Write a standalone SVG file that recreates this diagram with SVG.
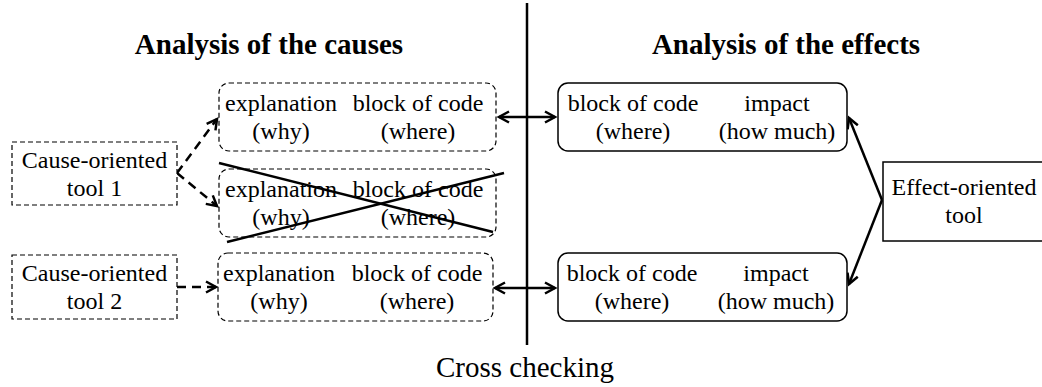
<svg xmlns="http://www.w3.org/2000/svg" width="1042" height="387" viewBox="0 0 1042 387">
<style>
text{font-family:"Liberation Serif","Times New Roman",serif;fill:#000;text-anchor:middle}
.t{font-size:24px}
.h{font-size:29px;font-weight:bold}
.x{font-size:29px}
.db{fill:#fff;stroke:#000;stroke-width:1.2;stroke-dasharray:5 3}
.sb{fill:#fff;stroke:#000;stroke-width:1.5}
.dl{fill:none;stroke:#000;stroke-width:2.5;stroke-dasharray:9 6}
.sl{fill:none;stroke:#000;stroke-width:2.5}
</style>
<defs>
<marker id="ah" markerUnits="userSpaceOnUse" markerWidth="14" markerHeight="14" refX="11" refY="7" orient="auto-start-reverse" viewBox="0 0 14 14">
<path d="M1,1.5 L11,7 L1,12.5" fill="none" stroke="#000" stroke-width="2.5"/>
</marker>
</defs>
<g id="titles">
<text class="h" x="269" y="54">Analysis of the causes</text>
<text class="h" x="786" y="54">Analysis of the effects</text>
<text class="x" x="525" y="377">Cross checking</text>
</g>
<g id="connectors">
<line class="sl" x1="527" y1="3" x2="527" y2="345"/>
<path class="dl" d="M177,173 L217,119" marker-end="url(#ah)"/>
<path class="dl" d="M177,173 L217,206" marker-end="url(#ah)"/>
<path class="dl" d="M177,287 L216,287" marker-end="url(#ah)"/>
<line class="sl" x1="499" y1="117" x2="555" y2="117" marker-start="url(#ah)" marker-end="url(#ah)"/>
<line class="sl" x1="495" y1="288" x2="555" y2="288" marker-start="url(#ah)" marker-end="url(#ah)"/>
<path class="sl" d="M882,200 L849,118" marker-end="url(#ah)"/>
<path class="sl" d="M882,200 L849,284" marker-end="url(#ah)"/>
</g>
<g id="cause-tool-1">
<rect class="db" x="12" y="142" width="165" height="63"/>
<text class="t" x="94.5" y="167.5">Cause-oriented</text>
<text class="t" x="94.5" y="195.5">tool 1</text>
</g>
<g id="cause-tool-2">
<rect class="db" x="12" y="255" width="165" height="64"/>
<text class="t" x="94.5" y="281">Cause-oriented</text>
<text class="t" x="94.5" y="309">tool 2</text>
</g>
<g id="cause-a">
<rect class="db" x="219" y="83" width="277" height="68" rx="10"/>
<text class="t" x="281" y="111">explanation</text>
<text class="t" x="418" y="111">block of code</text>
<text class="t" x="281" y="139">(why)</text>
<text class="t" x="418" y="139">(where)</text>
</g>
<g id="cause-b">
<rect class="db" x="219" y="169" width="277" height="68" rx="10"/>
<text class="t" x="281" y="197">explanation</text>
<text class="t" x="418" y="197">block of code</text>
<text class="t" x="281" y="225">(why)</text>
<text class="t" x="418" y="225">(where)</text>
</g>
<g id="cross-out">
<line class="sl" x1="219" y1="163" x2="493" y2="232"/>
<line class="sl" x1="227" y1="242" x2="504" y2="173"/>
</g>
<g id="cause-c">
<rect class="db" x="218" y="253" width="275" height="68" rx="10"/>
<text class="t" x="279" y="281">explanation</text>
<text class="t" x="417" y="281">block of code</text>
<text class="t" x="279" y="309">(why)</text>
<text class="t" x="417" y="309">(where)</text>
</g>
<g id="effect-d">
<rect class="sb" x="558" y="83" width="289" height="68" rx="10"/>
<text class="t" x="633" y="111">block of code</text>
<text class="t" x="777" y="111">impact</text>
<text class="t" x="633" y="139">(where)</text>
<text class="t" x="777" y="139">(how much)</text>
</g>
<g id="effect-e">
<rect class="sb" x="558" y="253" width="289" height="68" rx="10"/>
<text class="t" x="632" y="280.5">block of code</text>
<text class="t" x="776" y="280.5">impact</text>
<text class="t" x="632" y="308.5">(where)</text>
<text class="t" x="776" y="308.5">(how much)</text>
</g>
<g id="effect-tool">
<rect class="sb" x="883" y="162" width="163" height="79"/>
<text class="t" x="964" y="195">Effect-oriented</text>
<text class="t" x="964" y="223">tool</text>
</g>
</svg>
